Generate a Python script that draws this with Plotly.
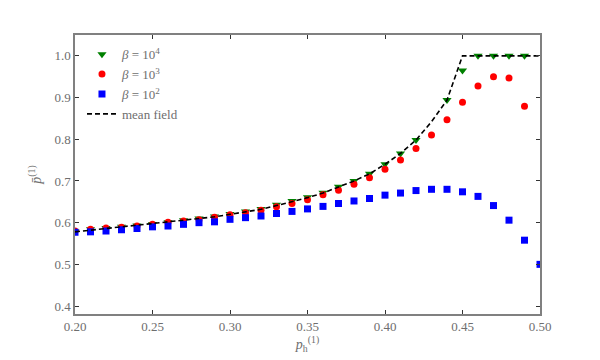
import plotly.graph_objects as go

p_h = [0.20, 0.21, 0.22, 0.23, 0.24, 0.25, 0.26, 0.27, 0.28, 0.29, 0.30,
       0.31, 0.32, 0.33, 0.34, 0.35, 0.36, 0.37, 0.38, 0.39, 0.40,
       0.41, 0.42, 0.43, 0.44, 0.45, 0.46, 0.47, 0.48, 0.49, 0.50]

beta_1e4 = [0.579, 0.584, 0.587, 0.590, 0.593, 0.597, 0.601, 0.606, 0.610, 0.615, 0.621,
            0.627, 0.633, 0.643, 0.652, 0.661, 0.672, 0.686, 0.700, 0.717, 0.740,
            0.766, 0.798, None, 0.894, 0.965, 1.000, 1.000, 1.000, 1.000, None]

beta_1e3 = [0.580, 0.584, 0.587, 0.589, 0.592, 0.596, 0.601, 0.604, 0.607, 0.613, 0.619,
            0.624, 0.630, 0.638, 0.646, 0.655, 0.667, 0.678, 0.692, 0.708, 0.728,
            0.750, 0.778, 0.810, 0.847, 0.889, 0.928, 0.950, 0.947, 0.879, None]

beta_1e2 = [0.577, 0.578, 0.580, 0.583, 0.586, 0.590, 0.592, 0.596, 0.600, 0.602, 0.608,
            0.612, 0.616, 0.622, 0.627, 0.633, 0.639, 0.646, 0.652, 0.658, 0.666,
            0.671, 0.677, 0.680, 0.680, 0.674, 0.663, 0.641, 0.606, 0.558, 0.500]

mean_field = [0.578, 0.582, 0.586, 0.589, 0.593, 0.597, 0.601, 0.605, 0.609, 0.614, 0.620,
              0.626, 0.632, 0.641, 0.650, 0.660, 0.671, 0.685, 0.700, 0.717, 0.740,
              0.766, 0.798, 0.842, 0.894, 1.000, 1.000, 1.000, 1.000, 1.000, 1.000]

GRIS = "#808080"
TXT = "#6e6e6e"
FONT = "Liberation Serif"

fig = go.Figure()
fig.add_trace(go.Scatter(
    x=p_h, y=beta_1e4, mode="markers", name="<i>β</i> = 10<sup>4</sup>",
    marker=dict(symbol="triangle-down", size=8, color="green"),
))
fig.add_trace(go.Scatter(
    x=p_h, y=beta_1e3, mode="markers", name="<i>β</i> = 10<sup>3</sup>",
    marker=dict(symbol="circle", size=7, color="red"),
))
fig.add_trace(go.Scatter(
    x=p_h, y=beta_1e2, mode="markers", name="<i>β</i> = 10<sup>2</sup>",
    marker=dict(symbol="square", size=7, color="blue"),
))
fig.add_trace(go.Scatter(
    x=p_h, y=mean_field, mode="lines", name="mean field",
    line=dict(color="black", width=1.6, dash="5px,3px"),
))

fig.update_layout(
    width=600, height=360,
    paper_bgcolor="white", plot_bgcolor="white",
    font=dict(family=FONT, size=13, color=TXT),
    margin=dict(l=75, r=60, t=35, b=46),
    showlegend=True,
    legend=dict(x=0.015, y=0.985, xanchor="left", yanchor="top",
                bgcolor="rgba(0,0,0,0)", borderwidth=0,
                font=dict(family=FONT, size=13, color=TXT),
                tracegroupgap=0, itemwidth=30),
)
fig.update_xaxes(
    range=[0.20, 0.50], tickvals=[0.20, 0.25, 0.30, 0.35, 0.40, 0.45, 0.50],
    tickformat=".2f", ticks="inside", ticklen=4, tickcolor="#333333",
    showline=True, linecolor=GRIS, linewidth=1.5, mirror="ticks",
    showgrid=False, zeroline=False, automargin=False,
    title=dict(text="<i>p</i><sub>h</sub><sup>(1)</sup>", standoff=4,
               font=dict(family=FONT, size=14, color=TXT)),
)
fig.update_yaxes(
    range=[0.381, 1.05], tickvals=[0.4, 0.5, 0.6, 0.7, 0.8, 0.9, 1.0],
    tickformat=".1f", ticks="inside", ticklen=4, tickcolor="#333333",
    showline=True, linecolor=GRIS, linewidth=1.5, mirror="ticks",
    showgrid=False, zeroline=False, automargin=False,
    title=dict(text="<i>p̄</i><sup>(1)</sup>", standoff=10,
               font=dict(family=FONT, size=14, color=TXT)),
)

fig.write_html("out.html", config={"displayModeBar": False},
               post_script="document.body.style.margin='0';")
